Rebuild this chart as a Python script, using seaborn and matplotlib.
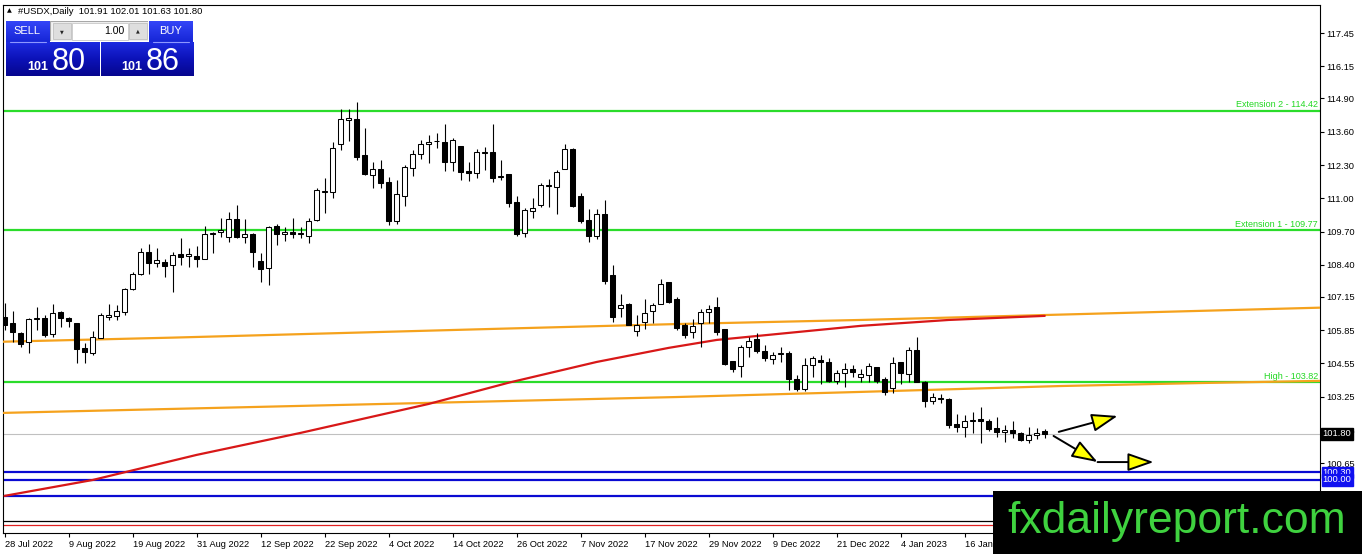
import numpy as np
import pandas as pd
import matplotlib
matplotlib.use("Agg")
import matplotlib.pyplot as plt
import matplotlib.transforms as mtransforms
from matplotlib.patches import Rectangle
from matplotlib.colors import LinearSegmentedColormap
import seaborn as sns

# daily candles, #USDX, 28 Jul 2022 onwards
OPENS = [106.37, 106.13, 105.74, 105.39, 106.27, 106.33, 105.70, 106.56, 106.33, 106.13,
         105.16, 104.96, 105.55, 106.37, 106.41, 106.56, 107.46, 108.05, 108.91, 108.48,
         108.52, 108.40, 108.83, 108.75, 108.75, 108.63, 109.61, 109.69, 109.49, 110.20,
         109.49, 109.61, 108.55, 108.28, 109.92, 109.61, 109.69, 109.61, 109.53, 110.16,
         111.25, 111.25, 113.13, 114.06, 114.10, 112.70, 111.92, 112.15, 111.64, 110.12,
         111.09, 112.19, 112.73, 113.13, 113.22, 113.20, 112.42, 113.05, 112.07, 111.99,
         112.77, 112.81, 111.84, 111.96, 110.86, 109.65, 110.51, 110.74, 111.48, 111.45,
         112.15, 112.93, 111.09, 110.16, 109.53, 110.39, 108.01, 106.72, 106.88, 105.82,
         106.17, 106.60, 106.88, 107.73, 107.07, 106.05, 105.78, 106.13, 106.56, 106.76,
         105.90, 104.65, 104.45, 105.20, 105.51, 105.04, 104.73, 104.94, 104.96, 103.95,
         103.56, 104.49, 104.69, 104.61, 103.87, 104.18, 104.34, 104.02, 104.10, 104.41,
         103.95, 103.59, 104.61, 104.14, 105.08, 103.83, 103.09, 103.22, 103.16, 102.19,
         102.07, 102.30, 102.38, 102.30, 102.03, 101.88, 101.95, 101.84, 101.56, 101.76,
         101.91]
HIGHS = [106.91, 106.60, 105.78, 106.33, 106.76, 106.45, 106.88, 106.60, 106.37, 106.13,
         105.35, 105.82, 106.52, 106.88, 106.84, 107.50, 108.12, 109.06, 109.22, 109.06,
         108.63, 108.91, 109.45, 109.06, 109.14, 109.92, 109.69, 110.23, 110.47, 110.74,
         110.20, 109.65, 108.87, 109.92, 110.00, 109.88, 110.23, 109.88, 110.23, 111.41,
         111.80, 113.20, 114.49, 114.49, 114.77, 113.75, 112.42, 112.50, 111.84, 111.72,
         112.30, 112.89, 113.28, 113.48, 113.55, 113.91, 113.36, 113.05, 112.42, 112.93,
         113.01, 113.91, 112.50, 111.96, 111.09, 110.62, 111.02, 111.60, 111.76, 112.11,
         113.13, 112.97, 111.21, 110.59, 110.59, 110.94, 108.40, 107.27, 106.91, 106.45,
         107.07, 106.91, 107.85, 107.73, 107.15, 106.13, 106.29, 106.68, 106.84, 107.15,
         105.90, 104.65, 105.27, 105.59, 105.74, 105.27, 105.00, 105.20, 105.04, 104.10,
         104.77, 104.84, 104.88, 104.77, 104.30, 104.57, 104.49, 104.34, 104.57, 104.41,
         104.02, 104.80, 104.61, 105.20, 105.59, 103.87, 103.40, 103.36, 103.20, 102.58,
         102.54, 102.66, 102.85, 102.38, 102.46, 102.15, 102.30, 101.88, 102.07, 102.03,
         102.01]
LOWS = [105.86, 105.39, 105.20, 104.96, 105.86, 105.59, 105.59, 105.98, 105.98, 104.57,
        104.57, 104.88, 105.55, 106.25, 106.25, 106.45, 107.42, 108.01, 108.05, 108.32,
        107.93, 107.35, 108.40, 108.32, 108.32, 108.63, 108.87, 109.49, 109.30, 109.45,
        109.26, 108.32, 107.73, 107.62, 109.18, 109.34, 109.45, 109.45, 109.26, 110.12,
        110.43, 111.02, 112.89, 113.24, 112.50, 111.92, 111.41, 111.41, 109.96, 110.00,
        110.70, 111.88, 112.54, 112.38, 112.97, 112.07, 112.07, 111.72, 111.68, 111.80,
        112.11, 111.64, 111.72, 110.66, 109.53, 109.49, 110.23, 110.66, 110.66, 110.39,
        112.15, 110.66, 110.04, 109.30, 109.41, 107.66, 106.17, 106.37, 106.05, 105.63,
        105.90, 106.13, 106.88, 106.91, 105.86, 105.55, 105.55, 105.20, 106.13, 105.66,
        104.49, 104.22, 104.02, 104.80, 104.96, 104.65, 104.53, 104.61, 103.52, 103.48,
        103.48, 104.02, 103.75, 103.83, 103.75, 103.63, 104.02, 103.83, 103.83, 103.79,
        103.32, 103.40, 103.75, 103.83, 103.83, 102.85, 102.97, 103.01, 102.03, 101.88,
        101.68, 101.84, 101.45, 101.91, 101.68, 101.48, 101.64, 101.52, 101.45, 101.60,
        101.63]
CLOSES = [106.05, 105.78, 105.31, 106.29, 106.31, 105.66, 106.52, 106.33, 106.21, 105.12,
          105.00, 105.59, 106.45, 106.43, 106.60, 107.46, 108.05, 108.91, 108.48, 108.59,
          108.36, 108.79, 108.71, 108.83, 108.63, 109.61, 109.65, 109.77, 110.20, 109.49,
          109.61, 108.91, 108.24, 109.88, 109.61, 109.69, 109.61, 109.65, 110.12, 111.33,
          111.29, 112.97, 114.10, 114.14, 112.62, 111.96, 112.15, 111.60, 110.12, 111.17,
          112.23, 112.73, 113.13, 113.20, 113.24, 112.42, 113.28, 112.03, 111.99, 112.81,
          112.81, 111.80, 111.88, 110.82, 109.61, 110.55, 110.62, 111.52, 111.52, 112.03,
          112.93, 110.70, 110.12, 109.53, 110.39, 107.77, 106.37, 106.84, 106.05, 106.05,
          106.52, 106.84, 107.66, 106.95, 105.94, 105.66, 106.02, 106.56, 106.68, 105.78,
          104.53, 104.34, 105.20, 105.43, 105.04, 104.77, 104.88, 104.96, 103.95, 103.56,
          104.49, 104.77, 104.61, 103.87, 104.18, 104.34, 104.22, 104.14, 104.45, 103.87,
          103.44, 104.57, 104.18, 105.08, 103.83, 103.09, 103.24, 103.18, 102.15, 102.07,
          102.30, 102.34, 102.30, 101.99, 101.88, 101.95, 101.84, 101.56, 101.76, 101.84,
          101.80]

DATE_LABELS = ["28 Jul 2022", "9 Aug 2022", "19 Aug 2022", "31 Aug 2022", "12 Sep 2022",
               "22 Sep 2022", "4 Oct 2022", "14 Oct 2022", "26 Oct 2022", "7 Nov 2022",
               "17 Nov 2022", "29 Nov 2022", "9 Dec 2022", "21 Dec 2022", "4 Jan 2023",
               "16 Jan 2023"]
Y_TICKS = [117.45, 116.15, 114.90, 113.60, 112.30, 111.00, 109.70, 108.40, 107.15,
           105.85, 104.55, 103.25, 101.95, 100.65]

# red moving average, read at a few bars
MA_BARS = [0, 11, 24, 37, 53, 63, 74, 83, 89, 107, 118, 130]
MA_VALUES = [99.38, 100.00, 100.98, 101.84, 102.97, 103.80, 104.61, 105.16, 105.47,
             106.02, 106.25, 106.41]
# two orange trend lines
UPPER_TL_BARS = [-0.2, 21, 61, 84, 107, 150, 164.4]
UPPER_TL_VALUES = [105.40, 105.56, 105.90, 106.09, 106.25, 106.61, 106.73]
LOWER_TL_BARS = [-0.2, 84, 107, 132, 150, 164.4]
LOWER_TL_VALUES = [102.62, 103.24, 103.44, 103.67, 103.79, 103.87]

GREEN_LEVELS = [114.42, 109.77, 103.82]
GREEN_NAMES = ["Extension 2", "Extension 1", "High"]
BLUE_LEVELS = [100.30, 100.00, 99.36]
BLACK_LEVEL = 98.40
RED_LEVEL = 98.24

SELL_PRICE = "101.80"
BUY_PRICE = "101.86"
LOT = "1.00"

# projected paths (bar, price)
ARROW_UP = [(131.75, 101.88), (139.1, 102.50)]
ARROW_DOWN = [(131.1, 101.72), (136.6, 100.70), (143.6, 100.70)]

df = pd.DataFrame({"open": OPENS, "high": HIGHS, "low": LOWS, "close": CLOSES})
df["bar"] = np.arange(len(df))

sns.set_theme(style="white")
plt.rcParams["font.family"] = ["Liberation Sans", "DejaVu Sans"]

W, H = 1362, 554
fig = plt.figure(figsize=(W / 100, H / 100), dpi=100)
fig.patch.set_facecolor("white")


def fbox(x0, y0, x1, y1):
    return [x0 / W, 1 - y1 / H, (x1 - x0) / W, (y1 - y0) / H]


ax = fig.add_axes(fbox(3, 5, 1320, 533))
ax.set_facecolor("white")
ax.set_xlim(-0.2, 164.4)
ax.set_ylim(97.93, 118.55)

# horizontal levels
for lvl in GREEN_LEVELS:
    ax.axhline(lvl, color="#2bdc2b", lw=1.6, zorder=2)
for lvl in BLUE_LEVELS:
    ax.axhline(lvl, color="#0a0ad2", lw=1.6, zorder=2)
ax.axhline(BLACK_LEVEL, color="black", lw=0.9, zorder=2)
ax.axhline(RED_LEVEL, color="#e02020", lw=0.9, zorder=2)
ax.axhline(CLOSES[-1], color="#c0c0c0", lw=0.8, zorder=1)

# trend lines and MA
sns.lineplot(x=UPPER_TL_BARS, y=UPPER_TL_VALUES, ax=ax, color="#f5a21d", lw=1.6, zorder=3)
sns.lineplot(x=LOWER_TL_BARS, y=LOWER_TL_VALUES, ax=ax, color="#f5a21d", lw=1.6, zorder=3)
sns.lineplot(x=MA_BARS, y=MA_VALUES, ax=ax, color="#d81818", lw=1.6, zorder=3)

# candles
up = df["close"] >= df["open"]
ax.vlines(df["bar"], df["low"], df["high"], color="black", lw=0.8, zorder=4)
body_low = np.minimum(df["open"], df["close"])
body_h = np.maximum((df["close"] - df["open"]).abs(), 0.01)
ax.bar(df["bar"], body_h, bottom=body_low, width=0.62,
       color=np.where(up, "white", "black"), edgecolor="black", linewidth=0.75, zorder=5)

# level captions
blend = mtransforms.blended_transform_factory(ax.transAxes, ax.transData)
for lvl, name in zip(GREEN_LEVELS, GREEN_NAMES):
    ax.text(0.9985, lvl + 0.05, f"{name} - {lvl:.2f}", transform=blend, ha="right",
            va="bottom", color="#22d822", fontsize=6.5, zorder=2)

# axes styling
ax.yaxis.tick_right()
ax.set_yticks(Y_TICKS)
ax.set_yticklabels([f"{v:.2f}" for v in Y_TICKS])
ax.set_xticks(np.arange(len(DATE_LABELS)) * 8)
ax.set_xticklabels(DATE_LABELS, ha="left")
ax.tick_params(axis="y", direction="out", length=3, width=0.8, pad=1.5,
               labelsize=6.7, colors="black", right=True, left=False)
ax.tick_params(axis="x", direction="out", length=3, width=0.8, pad=2,
               labelsize=6.7, colors="black", bottom=True)
ax.set_xlabel("")
ax.set_ylabel("")
for sp in ax.spines.values():
    sp.set_color("black")
    sp.set_linewidth(0.8)

# price tags on the right scale
ax.text(1.002, CLOSES[-1], f"{CLOSES[-1]:.2f}", transform=blend, ha="left", va="center",
        color="white", fontsize=6.7, clip_on=False, zorder=6,
        bbox=dict(boxstyle="square,pad=0.2", fc="black", ec="black"))
for lvl in BLUE_LEVELS[:2]:
    ax.text(1.002, lvl, f"{lvl:.2f}", transform=blend, ha="left", va="center",
            color="white", fontsize=6.7, clip_on=False, zorder=6,
            bbox=dict(boxstyle="square,pad=0.12", fc="#1010f0", ec="#1010f0"))

# arrows
head = "-|>,head_length=0.8,head_width=0.28"
ax.annotate("", xy=ARROW_UP[1], xytext=ARROW_UP[0], annotation_clip=False,
            arrowprops=dict(arrowstyle=head, fc="#ffff00", ec="black", lw=1.4,
                            mutation_scale=20, shrinkA=0, shrinkB=0), zorder=7)
for a, b in zip(ARROW_DOWN[:-1], ARROW_DOWN[1:]):
    ax.annotate("", xy=b, xytext=a, annotation_clip=False,
                arrowprops=dict(arrowstyle=head, fc="#ffff00", ec="black", lw=1.4,
                                mutation_scale=20, shrinkA=0, shrinkB=0), zorder=7)

# header line
fig.text(7 / W, 1 - 11 / H, "\u25b2", fontsize=4.5, va="center", color="black",
         family=["DejaVu Sans"])
fig.text(18 / W, 1 - 11 / H,
         f"#USDX,Daily  {OPENS[-1]:.2f} {HIGHS[-1]:.2f} {LOWS[-1]:.2f} {CLOSES[-1]:.2f}",
         fontsize=6.8, va="center", color="black")

# one-click trading panel
top_cmap = LinearSegmentedColormap.from_list("btn", ["#3445f8", "#1626d6"])
low_cmap = LinearSegmentedColormap.from_list("box", ["#1c2ae0", "#0c12b8", "#06068e"])


def gradient_box(x0, y0, x1, y1, cmap):
    gax = fig.add_axes(fbox(x0, y0, x1, y1))
    gax.imshow(np.linspace(0, 1, 64).reshape(-1, 1), aspect="auto", cmap=cmap,
               extent=(0, 1, 0, 1))
    gax.set_axis_off()
    return gax


gradient_box(6, 21, 50, 42, top_cmap)
gradient_box(149, 21, 193, 42, top_cmap)
gradient_box(6, 42, 99, 76, low_cmap)
gradient_box(101, 42, 193, 76, low_cmap)

mid = fig.add_axes(fbox(50, 21, 148, 41))
mid.set_xlim(50, 148)
mid.set_ylim(41, 21)
mid.set_axis_off()
mid.add_patch(Rectangle((50, 21), 98, 20, fc="#f2f2f2", ec="#a8a8a8", lw=0.8))
mid.add_patch(Rectangle((72, 22.5), 56, 17, fc="white", ec="#c8c8c8", lw=0.6))
mid.add_patch(Rectangle((53, 23), 18, 16, fc="#dedede", ec="#c0c0c0", lw=0.6))
mid.add_patch(Rectangle((129, 23), 18, 16, fc="#dedede", ec="#c0c0c0", lw=0.6))
mid.text(62, 31.5, "\u25bc", fontsize=3.5, ha="center", va="center", family=["DejaVu Sans"])
mid.text(138, 31, "\u25b2", fontsize=3.5, ha="center", va="center", family=["DejaVu Sans"])
mid.text(124, 31, LOT, fontsize=7.5, ha="right", va="center", color="black")

fig.text(27 / W, 1 - 31 / H, "SELL", color="white", fontsize=8, ha="center", va="center")
fig.text(171 / W, 1 - 31 / H, "BUY", color="white", fontsize=8, ha="center", va="center")
fig.add_artist(plt.Line2D([10 / W, 46 / W], [1 - 42 / H, 1 - 42 / H], color="#8d97ff", lw=0.8))
fig.add_artist(plt.Line2D([153 / W, 189 / W], [1 - 42 / H, 1 - 42 / H], color="#8d97ff", lw=0.8))

for price, xr in [(SELL_PRICE, 48), (BUY_PRICE, 142)]:
    big, small = price.split(".")
    fig.text(xr / W, 1 - 70 / H, big, color="white", fontsize=9, fontweight="bold",
             ha="right", va="baseline")
    fig.text((xr + 4) / W, 1 - 70 / H, small, color="white", fontsize=22,
             ha="left", va="baseline")

# watermark box
fig.add_artist(Rectangle((993 / W, 0), (W - 993) / W, (H - 491) / H,
                         transform=fig.transFigure, fc="black", ec="none", zorder=10))
fig.text(1177 / W, 1 - 521 / H, "fxdailyreport.com", color="#3fd23f", fontsize=32,
         ha="center", va="center", zorder=11)

fig.savefig("out.png", dpi=100)
